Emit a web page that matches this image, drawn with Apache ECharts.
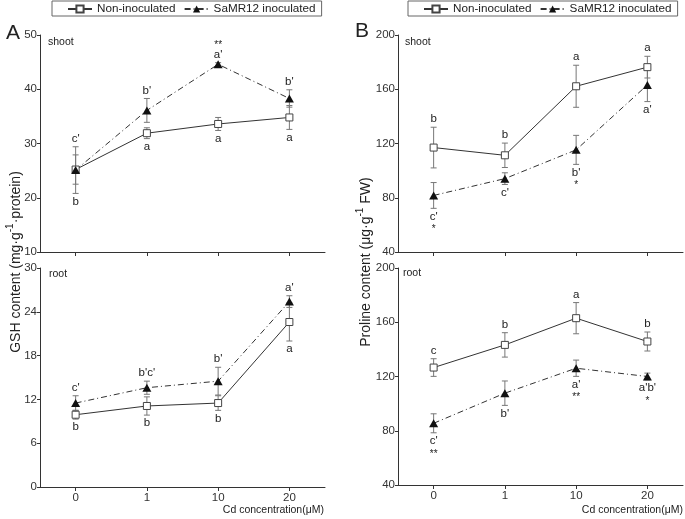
<!DOCTYPE html>
<html>
<head>
<meta charset="utf-8">
<script src="https://cdn.jsdelivr.net/npm/echarts@6/dist/echarts.min.js"></script>
<style>html,body{margin:0;padding:0;background:#fff}#c{width:685px;height:519px}</style>
</head>
<body>
<div id="c"></div>
<script>
// ---- data ----
const categories = ['0', '1', '10', '20'];

// Panel A: GSH content, shoot
const gshShootNon = [25.2, 31.9, 33.6, 34.8];
const gshShootNonErr = [2.7, 1.0, 1.2, 2.2];
const gshShootNonLetters = ['b', 'a', 'a', 'a'];
const gshShootInoc = [25.1, 36.1, 44.6, 38.3];
const gshShootInocErr = [4.3, 2.2, 0.3, 1.6];
const gshShootInocLetters = ["c'", "b'", "a'", "b'"];
const gshShootInocStars = ['', '', '**', ''];

// Panel A: GSH content, root
const gshRootNon = [9.9, 11.1, 11.5, 22.6];
const gshRootNonErr = [0.6, 1.25, 1.0, 2.6];
const gshRootNonLetters = ['b', 'b', 'b', 'a'];
const gshRootInoc = [11.5, 13.6, 14.5, 25.4];
const gshRootInocErr = [1.0, 0.9, 1.9, 0.8];
const gshRootInocLetters = ["c'", "b'c'", "b'", "a'"];
const gshRootInocStars = ['', '', '', ''];

// Panel B: Proline content, shoot
const proShootNon = [117.0, 111.3, 162.2, 176.3];
const proShootNonErr = [15.0, 9.0, 15.5, 8.0];
const proShootNonLetters = ['b', 'b', 'a', 'a'];
const proShootInoc = [81.7, 94.1, 115.3, 163.2];
const proShootInocErr = [9.5, 4.3, 10.7, 12.3];
const proShootInocLetters = ["c'", "c'", "b'", "a'"];
const proShootInocStars = ['*', '', '*', ''];

// Panel B: Proline content, root
const proRootNon = [126.6, 143.3, 163.0, 145.8];
const proRootNonErr = [6.5, 9.0, 11.5, 7.0];
const proRootNonLetters = ['c', 'b', 'a', 'b'];
const proRootInoc = [85.5, 107.7, 126.1, 120.0];
const proRootInocErr = [7.0, 9.0, 6.0, 2.5];
const proRootInocLetters = ["c'", "b'", "a'", "a'b'"];
const proRootInocStars = ['**', '', '**', '*'];

const NON = 'Non-inoculated';
const INOC = 'SaMR12 inoculated';
const FONT = 'Liberation Sans, Arial, Helvetica, sans-serif';
const NOSTARS = ['', '', '', ''];

// ---- helpers ----
function xAxisDef(gi, showLabels) {
  return {
    type: 'value', gridIndex: gi, min: -0.5, max: 3.5,
    axisLine: { show: true, onZero: false, lineStyle: { color: '#333', width: 1 } },
    axisTick: { show: true, length: 4, inside: false, customValues: [0, 1, 2, 3], lineStyle: { color: '#333' } },
    axisLabel: { show: showLabels, customValues: [0, 1, 2, 3], formatter: v => categories[Math.round(v)], fontSize: 11.5, color: '#333', margin: 5, fontFamily: FONT },
    splitLine: { show: false }
  };
}
function yAxisDef(gi, min, max, interval) {
  return {
    type: 'value', gridIndex: gi, min: min, max: max, interval: interval,
    axisLine: { show: true, onZero: false, lineStyle: { color: '#333', width: 1 } },
    axisTick: { show: true, length: 3, inside: false, lineStyle: { color: '#333' } },
    axisLabel: { fontSize: 11.5, color: '#333', margin: 3, fontFamily: FONT },
    splitLine: { show: false }
  };
}
function lineNon(gi, vals) {
  return {
    type: 'line', name: NON, xAxisIndex: gi, yAxisIndex: gi, z: 3,
    data: vals.map((v, i) => [i, v]),
    symbol: 'rect', symbolSize: 7,
    itemStyle: { color: '#fff', borderColor: '#444', borderWidth: 1 },
    lineStyle: { color: '#333', width: 1 },
    emphasis: { disabled: true }
  };
}
function lineInoc(gi, vals) {
  return {
    type: 'line', name: INOC, xAxisIndex: gi, yAxisIndex: gi, z: 3,
    data: vals.map((v, i) => [i, v]),
    symbol: 'triangle', symbolSize: [9, 8],
    itemStyle: { color: '#111', borderColor: '#111', borderWidth: 0 },
    lineStyle: { color: '#333', width: 1, type: [6, 3, 1, 3] },
    emphasis: { disabled: true }
  };
}
// error bars + significance letters; letters are placed beyond the outermost
// bar end of both groups at that concentration
function errSeries(gi, vals, errs, letters, stars, side, otherVals, otherErrs) {
  return {
    type: 'custom', xAxisIndex: gi, yAxisIndex: gi, z: 2, silent: true,
    data: vals.map((v, i) => [i, v, errs[i]]),
    renderItem: function (params, api) {
      const i = params.dataIndex;
      const x = api.value(0), y = api.value(1), e = api.value(2);
      const t = api.coord([x, y + e]);
      const b = api.coord([x, y - e]);
      const cx = t[0], cap = 3;
      const st = { stroke: '#777', lineWidth: 1 };
      const children = [
        { type: 'line', shape: { x1: cx, y1: t[1], x2: cx, y2: b[1] }, style: st },
        { type: 'line', shape: { x1: cx - cap, y1: t[1], x2: cx + cap, y2: t[1] }, style: st },
        { type: 'line', shape: { x1: cx - cap, y1: b[1], x2: cx + cap, y2: b[1] }, style: st }
      ];
      const ot = api.coord([x, otherVals[i] + otherErrs[i]])[1];
      const ob = api.coord([x, otherVals[i] - otherErrs[i]])[1];
      const ly = side > 0 ? Math.min(t[1], ot) - 8 : Math.max(b[1], ob) + 8;
      children.push({ type: 'text', x: cx, y: ly, style: { text: letters[i], fontSize: 11.5, fontFamily: FONT, fill: '#222', align: 'center', verticalAlign: 'middle' } });
      if (stars[i]) {
        children.push({ type: 'text', x: cx, y: side > 0 ? ly - 9 : ly + 13, style: { text: stars[i], fontSize: 10, fontFamily: FONT, fill: '#222', align: 'center', verticalAlign: 'middle' } });
      }
      return { type: 'group', children: children };
    }
  };
}
function legendDef(left) {
  return {
    left: left, top: 1, orient: 'horizontal',
    itemWidth: 24, itemHeight: 9, itemGap: 8,
    padding: [2, 6, 1, 15],
    borderColor: '#666', borderWidth: 1,
    textStyle: { fontSize: 11.7, color: '#222', fontFamily: FONT },
    data: [NON, INOC]
  };
}
function txt(x, y, s, size, align) {
  return { type: 'text', x: x, y: y, silent: true,
    style: { text: s, fontSize: size, fontFamily: FONT, fill: '#222', align: align, verticalAlign: 'middle' } };
}
function vTitle(x, y, pre, post) {
  return {
    type: 'text', x: x, y: y, rotation: Math.PI / 2, silent: true,
    style: {
      text: '{n|' + pre + '}{s|-1}{n|' + post + '}',
      align: 'center', verticalAlign: 'middle', fill: '#222',
      rich: {
        n: { fontSize: 14, fontFamily: FONT, fill: '#222', lineHeight: 18, verticalAlign: 'bottom' },
        s: { fontSize: 10, fontFamily: FONT, fill: '#222', lineHeight: 18, verticalAlign: 'top' }
      }
    }
  };
}

const chart = echarts.init(document.getElementById('c'), null, { renderer: 'canvas' });
chart.setOption({
  animation: false,
  backgroundColor: '#fff',
  textStyle: { fontFamily: FONT },
  grid: [
    { left: 40, top: 35, width: 285, height: 217 },
    { left: 40, top: 268, width: 285, height: 219 },
    { left: 398, top: 35, width: 285, height: 217 },
    { left: 398, top: 268, width: 285, height: 217 }
  ],
  xAxis: [xAxisDef(0, false), xAxisDef(1, true), xAxisDef(2, false), xAxisDef(3, true)],
  yAxis: [
    yAxisDef(0, 10, 50, 10),
    yAxisDef(1, 0, 30, 6),
    yAxisDef(2, 40, 200, 40),
    yAxisDef(3, 40, 200, 40)
  ],
  legend: [legendDef(52), legendDef(408)],
  graphic: [
    txt(13, 33, 'A', 21, 'center'),
    txt(362, 31, 'B', 21, 'center'),
    txt(48, 42, 'shoot', 10.5, 'left'),
    txt(49, 274, 'root', 10.5, 'left'),
    txt(405, 42, 'shoot', 10.5, 'left'),
    txt(403, 273, 'root', 10.5, 'left'),
    txt(324, 510, 'Cd concentration(μM)', 10.5, 'right'),
    txt(683, 510, 'Cd concentration(μM)', 10.5, 'right'),
    vTitle(14, 262, 'GSH content (mg·g', '·protein)'),
    vTitle(364, 262, 'Proline content (μg·g', ' FW)')
  ],
  series: [
    errSeries(0, gshShootNon, gshShootNonErr, gshShootNonLetters, NOSTARS, -1, gshShootInoc, gshShootInocErr),
    errSeries(0, gshShootInoc, gshShootInocErr, gshShootInocLetters, gshShootInocStars, 1, gshShootNon, gshShootNonErr),
    lineNon(0, gshShootNon),
    lineInoc(0, gshShootInoc),

    errSeries(1, gshRootNon, gshRootNonErr, gshRootNonLetters, NOSTARS, -1, gshRootInoc, gshRootInocErr),
    errSeries(1, gshRootInoc, gshRootInocErr, gshRootInocLetters, gshRootInocStars, 1, gshRootNon, gshRootNonErr),
    lineNon(1, gshRootNon),
    lineInoc(1, gshRootInoc),

    errSeries(2, proShootNon, proShootNonErr, proShootNonLetters, NOSTARS, 1, proShootInoc, proShootInocErr),
    errSeries(2, proShootInoc, proShootInocErr, proShootInocLetters, proShootInocStars, -1, proShootNon, proShootNonErr),
    lineNon(2, proShootNon),
    lineInoc(2, proShootInoc),

    errSeries(3, proRootNon, proRootNonErr, proRootNonLetters, NOSTARS, 1, proRootInoc, proRootInocErr),
    errSeries(3, proRootInoc, proRootInocErr, proRootInocLetters, proRootInocStars, -1, proRootNon, proRootNonErr),
    lineNon(3, proRootNon),
    lineInoc(3, proRootInoc)
  ]
});
</script>
</body>
</html>
